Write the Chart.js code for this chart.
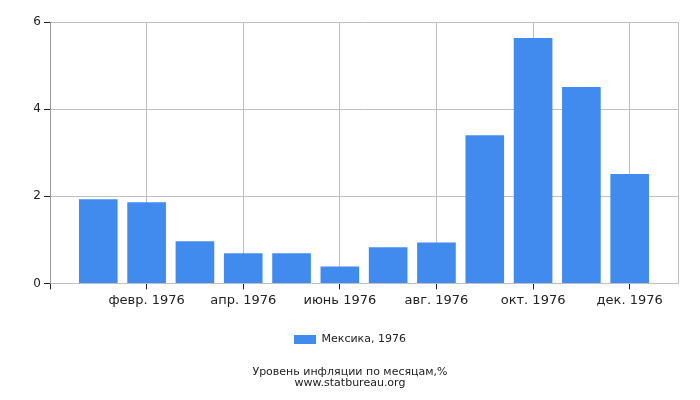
<!DOCTYPE html>
<html><head><meta charset="utf-8">
<script src="https://cdn.jsdelivr.net/npm/chart.js@4"></script>
<style>html,body{margin:0;padding:0;background:#fff}#wrap{width:700px;height:400px}</style>
</head><body><div id="wrap"><canvas id="c" width="700" height="400"></canvas></div>
<script>
const months = ['янв. 1976','февр. 1976','март 1976','апр. 1976','май 1976','июнь 1976','июль 1976','авг. 1976','сент. 1976','окт. 1976','нояб. 1976','дек. 1976'];
const monthIndex = [1,2,3,4,5,6,7,8,9,10,11,12];
const inflation = [1.93,1.86,0.97,0.69,0.69,0.39,0.83,0.94,3.40,5.63,4.51,2.51];
const seriesLabel = 'Мексика, 1976';
const titleLines = ['Уровень инфляции по месяцам,%','www.statbureau.org'];
const yTicks = [0,2,4,6];
const xTicks = [0,2,4,6,8,10,12];

const FONT = 'DejaVu Sans';
const txt = '#222';
const gridC = '#c0c0c0';

new Chart(document.getElementById('c'), {
  type: 'bar',
  data: {
    datasets: [{
      label: seriesLabel,
      data: monthIndex.map((m,i)=>({x:m,y:inflation[i]})),
      backgroundColor: '#418bef',
      borderWidth: 0,
      barPercentage: 0.8,
      categoryPercentage: 1.0
    }]
  },
  options: {
    responsive: false,
    animation: false,
    layout: {padding: {top: 22, right: 0, left: 0, bottom: 11}},
    scales: {
      x: {
        type: 'linear', min: 0, max: 13, offset: false,
        afterBuildTicks: s => { s.ticks = xTicks.map(v=>({value:v})); },
        ticks: {
          autoSkip: false, maxRotation: 0, color: txt, font: {family: FONT, size: 13},
          padding: 3,
          callback: v => (v>=1 && v<=12) ? months[v-1] : ''
        },
        grid: {offset: false, color: gridC, lineWidth: 1, tickLength: 6, tickColor: '#222'},
        border: {color: gridC}
      },
      y: {
        min: 0, max: 6,
        afterBuildTicks: s => { s.ticks = yTicks.map(v=>({value:v})); },
        afterFit: s => { s.width = 50; },
        ticks: {color: txt, font: {family: FONT, size: 12}, padding: 3},
        grid: {color: gridC, tickLength: 6, tickColor: '#222'},
        border: {color: '#999'}
      },
      yRight: {
        position: 'right', min: 0, max: 6,
        afterFit: s => { s.width = 22; },
        ticks: {display: false},
        grid: {drawOnChartArea: false, drawTicks: false},
        border: {color: gridC}
      }
    },
    plugins: {
      legend: {
        position: 'bottom',
        labels: {font: {family: FONT, size: 11}, color: txt, boxWidth: 22, boxHeight: 9, padding: 23}
      },
      title: {
        display: true, position: 'bottom', text: titleLines,
        font: {family: FONT, size: 11, weight: 'normal', lineHeight: 1.0},
        color: txt, padding: {top: 12, bottom: 0}
      },
      tooltip: {enabled: false}
    }
  }
});
</script></body></html>
